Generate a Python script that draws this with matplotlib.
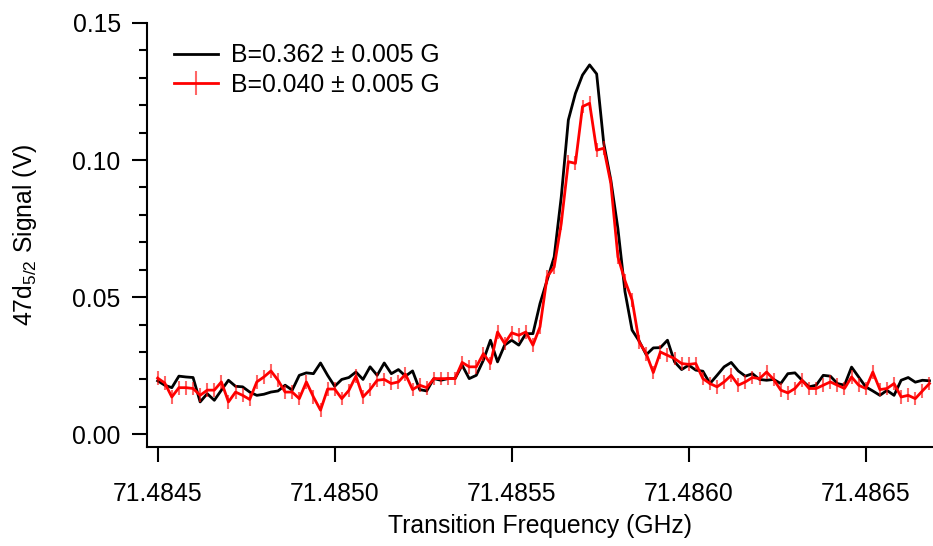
import numpy as np
import matplotlib
matplotlib.use("Agg")
import matplotlib.pyplot as plt
from matplotlib.ticker import MultipleLocator, FormatStrFormatter

plt.rcParams['font.family'] = ['Liberation Sans', 'DejaVu Sans']
plt.rcParams['mathtext.fontset'] = 'custom'
plt.rcParams['mathtext.rm'] = 'Liberation Sans'
plt.rcParams['mathtext.it'] = 'Liberation Sans:italic'

# frequency grid: 20 kHz steps starting at 71.4845 GHz
f_start = 71.4845
f_step = 0.00002
n_pts = 110
freq = f_start + f_step * np.arange(n_pts)

sig_high = [0.0195, 0.0179, 0.0170, 0.0212, 0.0209, 0.0207, 0.0118, 0.0148, 0.0124, 0.0161,
            0.0197, 0.0175, 0.0173, 0.0154, 0.0142, 0.0146, 0.0154, 0.0158, 0.0179, 0.0161,
            0.0215, 0.0224, 0.0221, 0.0260, 0.0215, 0.0175, 0.0200, 0.0207, 0.0227, 0.0200,
            0.0246, 0.0215, 0.0260, 0.0221, 0.0236, 0.0212, 0.0231, 0.0163, 0.0158, 0.0203,
            0.0197, 0.0203, 0.0203, 0.0252, 0.0203, 0.0215, 0.0270, 0.0343, 0.0264, 0.0325,
            0.0343, 0.0325, 0.0367, 0.0367, 0.0477, 0.0562, 0.0647, 0.0866, 0.1146, 0.1243,
            0.1310, 0.1347, 0.1314, 0.1061, 0.0927, 0.0750, 0.0520, 0.0380, 0.0340, 0.0290,
            0.0315, 0.0316, 0.0343, 0.0264, 0.0236, 0.0252, 0.0234, 0.0230, 0.0185, 0.0215,
            0.0246, 0.0262, 0.0231, 0.0212, 0.0221, 0.0200, 0.0197, 0.0200, 0.0185, 0.0221,
            0.0224, 0.0197, 0.0173, 0.0179, 0.0215, 0.0212, 0.0185, 0.0179, 0.0245, 0.0209,
            0.0173, 0.0158, 0.0142, 0.0160, 0.0142, 0.0197, 0.0207, 0.0190, 0.0197, 0.0195]

sig_low = [0.0205, 0.0187, 0.0136, 0.0170, 0.0170, 0.0167, 0.0142, 0.0161, 0.0161, 0.0191,
           0.0118, 0.0154, 0.0142, 0.0127, 0.0191, 0.0209, 0.0231, 0.0197, 0.0154, 0.0154,
           0.0130, 0.0191, 0.0136, 0.0088, 0.0165, 0.0165, 0.0130, 0.0160, 0.0212, 0.0136,
           0.0163, 0.0197, 0.0200, 0.0185, 0.0191, 0.0219, 0.0163, 0.0179, 0.0170, 0.0203,
           0.0203, 0.0203, 0.0203, 0.0262, 0.0246, 0.0246, 0.0294, 0.0258, 0.0373, 0.0331,
           0.0370, 0.0361, 0.0373, 0.0325, 0.0392, 0.0574, 0.0610, 0.0769, 0.0994, 0.0988,
           0.1195, 0.1207, 0.1036, 0.1043, 0.0915, 0.0647, 0.0560, 0.0490, 0.0337, 0.0294,
           0.0225, 0.0300, 0.0288, 0.0276, 0.0258, 0.0255, 0.0258, 0.0203, 0.0185, 0.0173,
           0.0191, 0.0215, 0.0179, 0.0191, 0.0207, 0.0203, 0.0227, 0.0200, 0.0161, 0.0151,
           0.0167, 0.0197, 0.0167, 0.0167, 0.0179, 0.0191, 0.0179, 0.0167, 0.0209, 0.0179,
           0.0167, 0.0227, 0.0163, 0.0167, 0.0185, 0.0136, 0.0142, 0.0130, 0.0158, 0.0185]
low_err = 0.0025  # roughly constant error bar half-height

label_high = "B=0.362 ± 0.005 G"
label_low = "B=0.040 ± 0.005 G"

fig = plt.figure(figsize=(9.33, 5.46), dpi=100)
ax = fig.add_axes([0.1576, 0.181, 0.8424, 0.777])

ax.plot(freq, sig_high, color="black", lw=2.0, label=label_high)
ax.errorbar(freq, sig_low, yerr=low_err, color="red", lw=2.0, ecolor=(1, 0, 0, 0.6),
            elinewidth=1.5, capsize=0, label=label_low)

ax.set_xlim(71.48447, 71.48669)
ax.set_ylim(-0.0047, 0.15)
ax.xaxis.set_major_locator(MultipleLocator(0.0005))
ax.xaxis.set_major_formatter(FormatStrFormatter("%.4f"))
ax.yaxis.set_major_locator(MultipleLocator(0.05))
ax.yaxis.set_minor_locator(MultipleLocator(0.01))
ax.yaxis.set_major_formatter(FormatStrFormatter("%.2f"))

for s in ("top", "right"):
    ax.spines[s].set_visible(False)
for s in ("left", "bottom"):
    ax.spines[s].set_linewidth(1.5)

ax.tick_params(which="major", direction="out", length=11, width=1.5, labelsize=17.8)
ax.tick_params(axis="x", which="major", pad=14)
ax.tick_params(axis="y", which="major", pad=8)
ax.tick_params(which="minor", direction="out", length=6, width=1.5)
ax.tick_params(axis="x", which="minor", bottom=False)

ax.set_xlabel("Transition Frequency (GHz)", fontsize=17.8, labelpad=6)
ax.set_ylabel(r"47d$_{\mathregular{5/2}}$ Signal (V)", fontsize=17.8, labelpad=24)

ax.legend(loc="upper left", bbox_to_anchor=(0.034, 0.952), frameon=False, fontsize=17.8,
          handlelength=1.8, handletextpad=0.5, labelspacing=0.22, borderpad=0, borderaxespad=0)

fig.savefig("out.png", dpi=100)
